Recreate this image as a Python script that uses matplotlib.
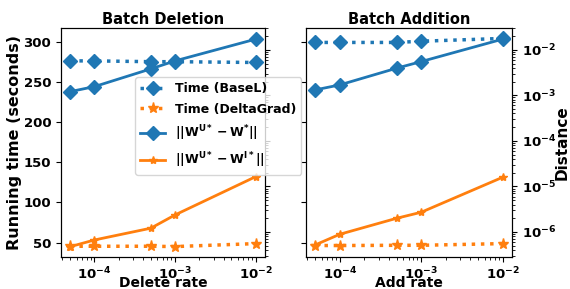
import matplotlib
matplotlib.use('Agg')
import matplotlib.pyplot as plt

rates = [5e-5, 1e-4, 5e-4, 1e-3, 1e-2]
del_time_basel = [276.5, 276.5, 275.5, 275.5, 274.5]
del_time_deltagrad = [45.4, 45.4, 45.4, 45.0, 48.7]
del_dist_basel = [1.21e-3, 1.56e-3, 3.82e-3, 5.73e-3, 1.72e-2]
del_dist_deltagrad = [4.75e-7, 6.67e-7, 1.21e-6, 2.37e-6, 1.64e-5]
add_time_basel = [299.5, 299.5, 299.5, 301.0, 304.5]
add_time_deltagrad = [46.3, 46.3, 46.6, 46.6, 48.7]
add_dist_basel = [1.32e-3, 1.70e-3, 3.96e-3, 5.53e-3, 1.72e-2]
add_dist_deltagrad = [5.2e-7, 8.9e-7, 2.0e-6, 2.71e-6, 1.59e-5]

labels = ['Time (BaseL)', 'Time (DeltaGrad)',
          r'$||W^{U*} - W^{*}||$', r'$||W^{U*} - W^{I*}||$']
titles = ['Batch Deletion', 'Batch Addition']
xlabels = ['Delete rate', 'Add rate']

plt.rcParams['font.weight'] = 'bold'
plt.rcParams['axes.labelweight'] = 'bold'
plt.rcParams['axes.titleweight'] = 'bold'
plt.rcParams['mathtext.default'] = 'bf'

BLUE = '#1f77b4'
ORANGE = '#ff7f0e'

fig = plt.figure(figsize=(5.7, 2.89), dpi=100)
ax1 = fig.add_axes([61/570, 1-257/289, 204/570, 229/289])
ax2 = fig.add_axes([306/570, 1-257/289, 206/570, 229/289], sharey=ax1)

data = [(del_time_basel, del_time_deltagrad, del_dist_basel, del_dist_deltagrad),
        (add_time_basel, add_time_deltagrad, add_dist_basel, add_dist_deltagrad)]

handles = []
for i, ax in enumerate([ax1, ax2]):
    tb, td, db, dd = data[i]
    tw = ax.twinx()
    h1, = ax.plot(rates, tb, ':', color=BLUE, marker='D', ms=7.5, lw=2.5)
    h2, = ax.plot(rates, td, ':', color=ORANGE, marker='*', ms=8, lw=2.5)
    h3, = tw.plot(rates, db, '-', color=BLUE, marker='D', ms=7.5, lw=2)
    h4, = tw.plot(rates, dd, '-', color=ORANGE, marker='*', ms=6, lw=2)
    if i == 0:
        handles = [h1, h2, h3, h4]
    ax.set_xscale('log')
    tw.set_yscale('log')
    tw.set_ylim(10**-6.55, 10**-1.52)
    ax.set_xlim(10**-4.415, 10**-1.885)
    ax.set_title(titles[i], fontsize=10.5, pad=3)
    ax.set_xlabel(xlabels[i], fontsize=10, labelpad=-4.5)
    ax.tick_params(labelsize=9.5)
    ax.tick_params(axis='x', pad=2.5)
    tw.tick_params(labelsize=9.5)
    if i == 0:
        tw.tick_params(which='both', labelright=False)
    else:
        ax.tick_params(labelleft=False)
        tw.set_ylabel('Distance', fontsize=11, labelpad=-1)

ax1.set_ylim(32.0, 317.5)
ax1.set_ylabel('Running time (seconds)', fontsize=11.5, labelpad=1)

fig.legend(handles, labels, loc='upper left',
           bbox_to_anchor=(135/570, 1-77/289), fontsize=9,
           borderaxespad=0, labelspacing=0.6)

fig.savefig('out.png', dpi=100)
